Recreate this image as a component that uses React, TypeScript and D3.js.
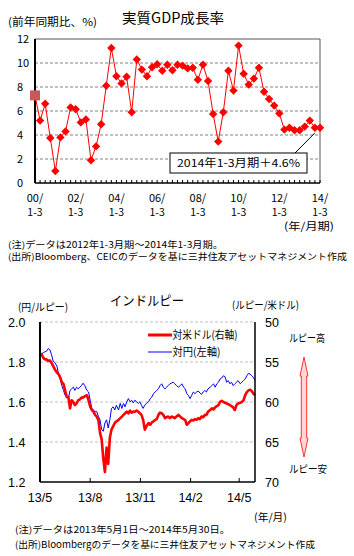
import React from 'react';
import * as d3 from 'd3';

// ---------- Chart 1: India real GDP growth (quarterly, YoY %) ----------
const gdpStartYear = 2000;
const gdpValues = [
  7.3, 5.2, 6.6, 3.75,
  1.0, 3.8, 4.3, 6.3,
  6.15, 5.05, 5.3, 1.9,
  3.05, 4.9, 8.1, 11.25,
  8.9, 8.3, 8.85, 5.9,
  10.3, 9.45, 8.9, 9.65,
  9.9, 9.35, 9.85, 9.4,
  9.85, 9.78, 9.55, 9.6,
  8.6, 9.85, 8.5, 5.75,
  3.45, 5.9, 9.35, 7.7,
  11.45, 9.1, 8.2, 8.7,
  9.6, 7.6, 7.0, 6.45,
  5.8, 4.45, 4.6, 4.4,
  4.4, 4.7, 5.2, 4.6,
  4.6,
];
const gdpYTicks = [0, 2, 4, 6, 8, 10, 12];
const gdpXTickYears = ['00', '02', '04', '06', '08', '10', '12', '14'];

// ---------- Chart 2: Indian rupee ----------
const fxDates = [
  '2013-05-01','2013-05-04','2013-05-07','2013-05-10','2013-05-13','2013-05-16','2013-05-19','2013-05-22','2013-05-25','2013-05-28',
  '2013-06-01','2013-06-04','2013-06-07','2013-06-10','2013-06-13','2013-06-16','2013-06-19','2013-06-22','2013-06-25','2013-06-28',
  '2013-07-01','2013-07-04','2013-07-07','2013-07-10','2013-07-13','2013-07-16','2013-07-19','2013-07-22','2013-07-26','2013-07-29',
  '2013-08-01','2013-08-04','2013-08-07','2013-08-10','2013-08-13','2013-08-16','2013-08-19','2013-08-22','2013-08-25','2013-08-28',
  '2013-08-31','2013-09-03','2013-09-06','2013-09-09','2013-09-12','2013-09-15','2013-09-18','2013-09-22','2013-09-25','2013-09-28',
  '2013-10-01','2013-10-04','2013-10-07','2013-10-10','2013-10-13','2013-10-16','2013-10-19','2013-10-22','2013-10-25','2013-10-28',
  '2013-10-31','2013-11-03','2013-11-06','2013-11-09','2013-11-12','2013-11-16','2013-11-19','2013-11-22','2013-11-25','2013-11-28',
  '2013-12-01','2013-12-04','2013-12-07','2013-12-10','2013-12-13','2013-12-16','2013-12-19','2013-12-22','2013-12-25','2013-12-28',
  '2013-12-31','2014-01-03','2014-01-06','2014-01-10','2014-01-13','2014-01-16','2014-01-19','2014-01-22','2014-01-25','2014-01-28',
  '2014-01-31','2014-02-03','2014-02-06','2014-02-09','2014-02-12','2014-02-15','2014-02-18','2014-02-21','2014-02-24','2014-02-27',
  '2014-03-02','2014-03-05','2014-03-09','2014-03-12','2014-03-15','2014-03-18','2014-03-21','2014-03-24','2014-03-27','2014-03-30',
  '2014-04-02','2014-04-05','2014-04-08','2014-04-11','2014-04-14','2014-04-17','2014-04-20','2014-04-23','2014-04-26','2014-04-29',
  '2014-05-03','2014-05-06','2014-05-09','2014-05-12','2014-05-15','2014-05-18','2014-05-21','2014-05-24','2014-05-27','2014-05-30',
];
// 円/ルピー (left axis)
const jpyPerInr = [
  1.829,1.841,1.846,1.851,1.854,1.867,1.862,1.838,1.805,1.797,
  1.780,1.740,1.715,1.682,1.658,1.633,1.625,1.617,1.658,1.666,
  1.674,1.658,1.674,1.666,1.674,1.682,1.694,1.682,1.658,1.650,
  1.609,1.568,1.560,1.552,1.552,1.527,1.511,1.462,1.454,1.495,
  1.511,1.470,1.511,1.568,1.576,1.560,1.584,1.560,1.593,1.568,
  1.593,1.576,1.601,1.617,1.601,1.609,1.596,1.609,1.601,1.593,
  1.601,1.584,1.568,1.584,1.593,1.601,1.617,1.625,1.642,1.650,
  1.658,1.666,1.682,1.691,1.674,1.666,1.674,1.682,1.691,1.694,
  1.699,1.691,1.682,1.674,1.682,1.691,1.674,1.666,1.642,1.633,
  1.617,1.633,1.650,1.642,1.650,1.655,1.645,1.638,1.650,1.658,
  1.650,1.666,1.674,1.682,1.691,1.674,1.691,1.699,1.715,1.720,
  1.731,1.727,1.699,1.707,1.691,1.699,1.682,1.691,1.699,1.707,
  1.691,1.699,1.707,1.715,1.731,1.743,1.740,1.731,1.723,1.707,
];
// ルピー/米ドル (right axis, inverted)
const inrPerUsd = [
  53.94,54.06,54.47,54.67,54.67,54.88,54.80,55.08,55.49,55.90,
  56.31,56.51,56.92,57.53,57.73,58.55,59.37,59.37,60.80,59.78,
  59.98,60.39,60.18,59.78,59.69,59.45,59.45,59.29,59.16,59.78,
  60.59,61.00,61.20,61.61,61.82,62.23,63.86,64.67,67.12,68.76,
  65.69,67.74,64.47,63.45,63.04,62.63,62.43,62.23,62.02,61.82,
  61.61,61.41,61.20,61.41,61.08,61.33,61.20,61.20,61.08,61.20,
  61.41,61.61,62.23,63.45,63.04,62.63,62.84,62.55,62.43,62.23,
  62.14,61.61,61.33,61.41,61.61,62.02,61.90,61.82,62.02,61.82,
  61.90,62.02,61.82,61.61,61.82,62.02,62.14,62.23,62.84,62.63,
  62.43,62.23,62.31,62.14,62.23,62.02,62.14,61.82,61.90,61.61,
  61.61,61.20,61.00,60.80,60.92,60.67,60.51,60.39,59.98,59.86,
  59.98,60.10,60.18,60.27,60.39,60.51,60.67,61.00,60.39,60.18,
  60.10,59.98,59.78,59.16,58.76,58.55,58.47,58.63,58.96,59.16,
];
const fxLeftTicks = [1.2, 1.4, 1.6, 1.8, 2.0];
const fxRightTicks = [50, 55, 60, 65, 70];
const fxXTicks = ['2013-05-01', '2013-08-01', '2013-11-01', '2014-02-01', '2014-05-01'];

const JP = "'Noto Sans CJK JP', 'Noto Sans', sans-serif";
const NUM = "'Liberation Sans', Arial, sans-serif";

export default function App() {
  // ----- chart 1 scales -----
  const quarters: string[] = [];
  for (let i = 0; i < gdpValues.length; i++) {
    const y = gdpStartYear + Math.floor(i / 4);
    quarters.push(`${y}Q${(i % 4) + 1}`);
  }
  const gdpData = gdpValues.map((v, i) => ({ q: quarters[i], v }));
  const x1 = d3.scalePoint<string>().domain(quarters).range([35, 320]);
  const y1 = d3.scaleLinear().domain([0, 12]).range([183, 39]);
  const line1 = d3.line<{ q: string; v: number }>().x(d => x1(d.q) as number).y(d => y1(d.v));
  const diamond = (cx: number, cy: number, r = 4.2) =>
    `M${cx},${cy - r}L${cx + r},${cy}L${cx},${cy + r}L${cx - r},${cy}Z`;

  // ----- chart 2 scales -----
  const parse = d3.timeParse('%Y-%m-%d');
  const dates = fxDates.map(s => parse(s) as Date);
  const x2 = d3.scaleTime().domain([parse('2013-05-01') as Date, parse('2014-05-30') as Date]).range([40, 255]);
  const yL = d3.scaleLinear().domain([1.2, 2.0]).range([482, 322]);
  const yR = d3.scaleLinear().domain([50, 70]).range([322, 482]);
  const blueLine = d3.line<number>().x((_, i) => x2(dates[i])).y(d => yL(d));
  const redLine = d3.line<number>().x((_, i) => x2(dates[i])).y(d => yR(d));
  const fxTickLabel = (s: string) => {
    const d = parse(s) as Date;
    return `${String(d.getFullYear()).slice(2)}/${d.getMonth() + 1}`;
  };

  const last = gdpData[gdpData.length - 1];
  const lastX = x1(last.q) as number;
  const lastY = y1(last.v);

  return (
    <svg width={354} height={556} style={{ position: 'absolute', left: 0, top: 0, background: '#fff' }}
      xmlns="http://www.w3.org/2000/svg">
      <rect x={0} y={0} width={354} height={556} fill="#fff" />

      {/* ================= Chart 1 ================= */}
      <text x={173} y={23} textAnchor="middle" fontFamily={JP} fontSize={14} textLength={102} lengthAdjust="spacingAndGlyphs">実質GDP成長率</text>
      <text x={8} y={26} fontFamily={JP} fontSize={11} textLength={89} lengthAdjust="spacingAndGlyphs">(前年同期比、%)</text>

      {/* grid */}
      {gdpYTicks.filter(t => t > 0 && t < 12).map(t => (
        <line key={t} x1={35} x2={320} y1={y1(t)} y2={y1(t)} stroke="#808080" strokeWidth={1} strokeDasharray="3,2" />
      ))}
      <line x1={35} x2={320} y1={y1(12)} y2={y1(12)} stroke="#555" strokeWidth={1} />
      <line x1={320} x2={320} y1={y1(12)} y2={y1(0)} stroke="#555" strokeWidth={1} />
      {/* quarter ticks */}
      {quarters.map(q => (
        <line key={q} x1={x1(q) as number} x2={x1(q) as number} y1={y1(0)} y2={y1(0) - 3} stroke="#000" strokeWidth={1} />
      ))}
      <line x1={35} x2={320} y1={y1(0)} y2={y1(0)} stroke="#000" strokeWidth={1.5} />
      <line x1={35} x2={35} y1={y1(12)} y2={y1(0)} stroke="#000" strokeWidth={2} />

      {gdpYTicks.map(t => (
        <text key={t} x={17} y={y1(t) + 4} fontFamily={JP} fontSize={11}>{t}</text>
      ))}
      {gdpXTickYears.map(yy => {
        const q = `20${yy}Q1`;
        const xx = x1(q) as number;
        return (
          <g key={yy}>
            <text x={xx} y={201.5} textAnchor="middle" fontFamily={JP} fontSize={11}>{yy}/</text>
            <text x={xx} y={215.5} textAnchor="middle" fontFamily={JP} fontSize={10.5}>1-3</text>
          </g>
        );
      })}
      <text x={309} y={230} textAnchor="middle" fontFamily={JP} fontSize={10.5} textLength={50} lengthAdjust="spacingAndGlyphs">(年/月期)</text>

      {/* series */}
      <path d={line1(gdpData) as string} fill="none" stroke="#ff0000" strokeWidth={1} />
      {gdpData.slice(1).map(d => (
        <path key={d.q} d={diamond(x1(d.q) as number, y1(d.v))} fill="#ff0000" />
      ))}
      <rect x={(x1(gdpData[0].q) as number) - 5} y={y1(gdpData[0].v) - 5} width={10} height={10} fill="#c45a5a" />

      {/* annotation */}
      <line x1={295} y1={153} x2={lastX - 5} y2={lastY + 5} stroke="#000" strokeWidth={1} />
      <rect x={170} y={153} width={137} height={20} fill="#fff" stroke="#000" strokeWidth={1} />
      <text x={238.5} y={167} textAnchor="middle" fontFamily={JP} fontSize={11} textLength={123} lengthAdjust="spacingAndGlyphs">2014年1-3月期＋4.6%</text>

      {/* notes */}
      <text x={8} y={248} fontFamily={JP} fontSize={9} textLength={215} lengthAdjust="spacingAndGlyphs">(注)データは2012年1-3月期～2014年1-3月期。</text>
      <text x={8} y={260} fontFamily={JP} fontSize={9} textLength={339} lengthAdjust="spacingAndGlyphs">(出所)Bloomberg、CEICのデータを基に三井住友アセットマネジメント作成</text>

      {/* ================= Chart 2 ================= */}
      <text x={110} y={304.5} fontFamily={JP} fontSize={13} textLength={74} lengthAdjust="spacingAndGlyphs">インドルピー</text>
      <text x={18} y={311} fontFamily={JP} fontSize={10.5} textLength={50} lengthAdjust="spacingAndGlyphs">(円/ルピー)</text>
      <text x={232} y={309} fontFamily={JP} fontSize={10.5} textLength={67} lengthAdjust="spacingAndGlyphs">(ルピー/米ドル)</text>

      {fxLeftTicks.filter(t => t > 1.2).map(t => (
        <line key={t} x1={40} x2={255} y1={yL(t)} y2={yL(t)} stroke="#c0c0c0" strokeWidth={1} strokeDasharray="3,2" />
      ))}
      {fxXTicks.slice(1).map(s => (
        <line key={s} x1={x2(parse(s) as Date)} x2={x2(parse(s) as Date)} y1={482} y2={478} stroke="#000" strokeWidth={1} />
      ))}

      {/* lines */}
      <path d={blueLine(jpyPerInr) as string} fill="none" stroke="#0000ff" strokeWidth={1} />
      <path d={redLine(inrPerUsd) as string} fill="none" stroke="#ff0000" strokeWidth={2.6} strokeLinejoin="round" />

      <line x1={40} x2={40} y1={322} y2={482} stroke="#000" strokeWidth={2} />
      <line x1={255} x2={255} y1={322} y2={482} stroke="#000" strokeWidth={1.5} />
      <line x1={40} x2={255} y1={482} y2={482} stroke="#000" strokeWidth={1.5} />

      {fxLeftTicks.map(t => (
        <text key={t} x={8} y={yL(t) + 4.5} fontFamily={NUM} fontSize={12.5}>{t.toFixed(1)}</text>
      ))}
      {fxRightTicks.map(t => (
        <text key={t} x={265} y={yR(t) + 4.5} fontFamily={NUM} fontSize={12.5}>{t}</text>
      ))}
      {fxXTicks.map(s => (
        <text key={s} x={x2(parse(s) as Date)} y={501.5} textAnchor="middle" fontFamily={NUM} fontSize={12.5}>{fxTickLabel(s)}</text>
      ))}
      <text x={254} y={521} fontFamily={JP} fontSize={10.5} textLength={33} lengthAdjust="spacingAndGlyphs">(年/月)</text>

      {/* legend */}
      <line x1={148} x2={172} y1={335} y2={335} stroke="#ff0000" strokeWidth={3} />
      <text x={172.5} y={339} fontFamily={JP} fontSize={11} textLength={65} lengthAdjust="spacingAndGlyphs">対米ドル(右軸)</text>
      <line x1={148} x2={172} y1={352} y2={352} stroke="#0000ff" strokeWidth={1} />
      <text x={172.5} y={356} fontFamily={JP} fontSize={11} textLength={48} lengthAdjust="spacingAndGlyphs">対円(左軸)</text>

      {/* rupee strong/weak arrow */}
      <text x={289} y={342} fontFamily={JP} fontSize={10.5} textLength={36} lengthAdjust="spacingAndGlyphs">ルピー高</text>
      <path d="M304,357 L308,376 L306.7,376 L306.7,438 L308,438 L304,457 L300,438 L301.3,438 L301.3,376 L300,376 Z"
        fill="#ffd6d6" stroke="#ff3333" strokeWidth={1} />
      <text x={289} y={473} fontFamily={JP} fontSize={10.5} textLength={38} lengthAdjust="spacingAndGlyphs">ルピー安</text>

      {/* notes */}
      <text x={15} y={532.5} fontFamily={JP} fontSize={9.5} textLength={215} lengthAdjust="spacingAndGlyphs">(注)データは2013年5月1日～2014年5月30日。</text>
      <text x={15} y={547.5} fontFamily={JP} fontSize={9.5} textLength={300} lengthAdjust="spacingAndGlyphs">(出所)Bloombergのデータを基に三井住友アセットマネジメント作成</text>
    </svg>
  );
}
